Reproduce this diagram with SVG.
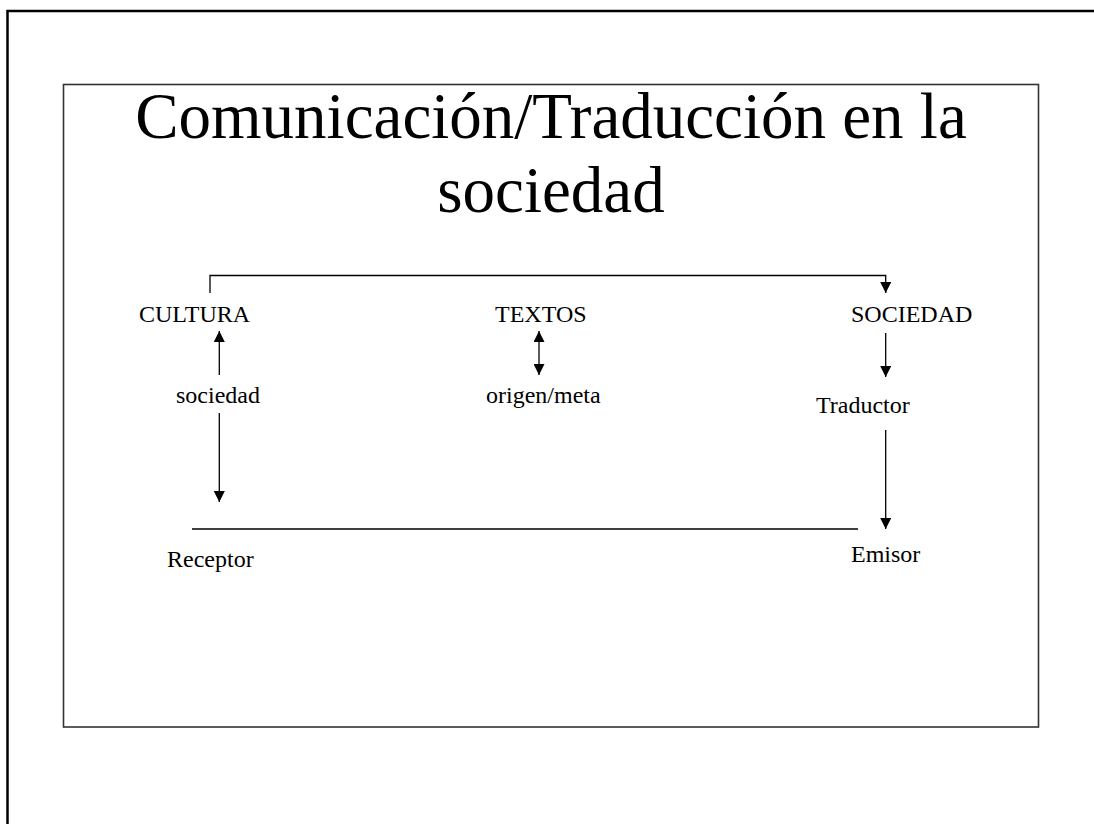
<svg xmlns="http://www.w3.org/2000/svg" width="1094" height="824" viewBox="0 0 1094 824">
<defs>
<style>
.t{font-family:"Liberation Serif","Times New Roman",serif;fill:#000}
.lbl{font-size:24px}
.title{font-size:65px}
.ln{stroke:#000;stroke-width:1.3;fill:none}
</style>
<marker id="ah" viewBox="0 0 12 12" refX="12" refY="6" markerWidth="12" markerHeight="11" markerUnits="userSpaceOnUse" orient="auto-start-reverse">
<path d="M0,0 L12,6 L0,12 Z" fill="#000"/>
</marker>
</defs>
<rect width="1094" height="824" fill="#fff"/>
<rect id="frame" x="7.5" y="11" width="1200" height="900" fill="none" stroke="#000" stroke-width="2.5"/>
<rect id="slide" x="63.5" y="84.5" width="975" height="642.5" fill="none" stroke="#333" stroke-width="1.6"/>
<g id="title">
<text class="t title" x="551" y="138" text-anchor="middle">Comunicación/Traducción en la</text>
<text class="t title" x="551" y="212" text-anchor="middle">sociedad</text>
</g>
<g id="connectors">
<path class="ln" d="M210,293 V275.5 H885.7 V293" marker-end="url(#ah)"/>
<path class="ln" d="M219.3,375 V331" marker-end="url(#ah)"/>
<path class="ln" d="M219.3,413 V502" marker-end="url(#ah)"/>
<path class="ln" d="M539,331 V375" marker-start="url(#ah)" marker-end="url(#ah)"/>
<path class="ln" d="M885.7,333 V377" marker-end="url(#ah)"/>
<path class="ln" d="M885.7,430 V529" marker-end="url(#ah)"/>
<path class="ln" d="M192,529 H858"/>
</g>
<g id="cultura"><text class="t lbl" x="139" y="322">CULTURA</text></g>
<g id="textos"><text class="t lbl" x="495" y="322">TEXTOS</text></g>
<g id="sociedad-top"><text class="t lbl" x="851" y="322">SOCIEDAD</text></g>
<g id="sociedad"><text class="t lbl" x="176" y="403">sociedad</text></g>
<g id="origen"><text class="t lbl" x="486" y="403">origen/meta</text></g>
<g id="traductor"><text class="t lbl" x="816" y="413">Traductor</text></g>
<g id="receptor"><text class="t lbl" x="167" y="567">Receptor</text></g>
<g id="emisor"><text class="t lbl" x="851" y="562">Emisor</text></g>
</svg>
